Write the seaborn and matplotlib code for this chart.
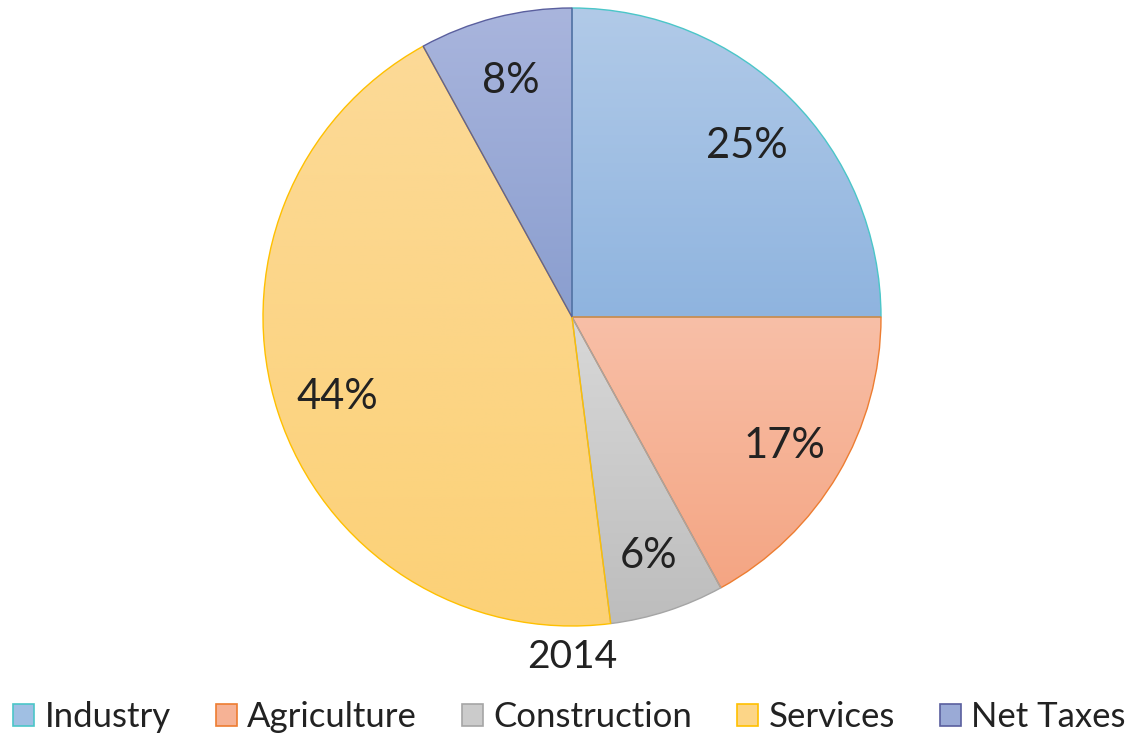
import numpy as np
import matplotlib
matplotlib.use("Agg")
import matplotlib.pyplot as plt
import seaborn as sns
from matplotlib.patches import Patch
from matplotlib.colors import LinearSegmentedColormap

categories = ["Industry", "Agriculture", "Construction", "Services", "Net Taxes"]
shares = [25, 17, 6, 44, 8]
year_label = "2014"

top_colors = ["#b1cae8", "#f8bfa7", "#d8d8d8", "#fcda97", "#a9b5dd"]
bottom_colors = ["#8fb4df", "#f4a583", "#bdbdbd", "#fcd177", "#8a9ecf"]
edge_colors = ["#4bc6c8", "#ed7d31", "#a5a5a5", "#ffc000", "#5a5f9e"]

sns.set_theme(style="white")
plt.rcParams["font.family"] = ["Lato", "DejaVu Sans"]

W, H = 1139, 736
fig = plt.figure(figsize=(W / 100, H / 100), dpi=100)
cx, cy, R = 572, 317, 309
ax = fig.add_axes([(cx - R) / W, (H - cy - R) / H, 2 * R / W, 2 * R / H])

wedges, texts, autotexts = ax.pie(
    shares, startangle=90, counterclock=False, radius=1,
    colors=top_colors, autopct="%1.0f%%", pctdistance=0.80,
    wedgeprops=dict(linewidth=1.0),
    textprops=dict(fontsize=30, color="#222222"),
)
ax.set_xlim(-1, 1)
ax.set_ylim(-1, 1)
ax.set_aspect("equal")
ax.axis("off")

for w, tc, bc, ec in zip(wedges, top_colors, bottom_colors, edge_colors):
    w.set_edgecolor(ec)
    ext = w.get_path().get_extents()
    cmap = LinearSegmentedColormap.from_list("g", [bc, tc])
    grad = np.linspace(0, 1, 256).reshape(-1, 1)
    im = ax.imshow(grad, cmap=cmap, origin="lower", aspect="auto",
                   extent=[ext.x0, ext.x1, ext.y0, ext.y1], zorder=w.get_zorder() - 0.1)
    im.set_clip_path(w)
    w.set_facecolor("none")
    w.set_zorder(w.get_zorder() + 0.2)

for t in autotexts:
    t.set_zorder(10)
    t.set_va("center_baseline")

ax.set_xlim(-1, 1)
ax.set_ylim(-1, 1)

fig.text(cx / W, 1 - 657 / H, year_label, ha="center", va="center", fontsize=28, color="#222222")

handles = [Patch(facecolor=(np.array(matplotlib.colors.to_rgb(t)) + np.array(matplotlib.colors.to_rgb(b))) / 2,
                 edgecolor=e, linewidth=1.2) for t, b, e in zip(top_colors, bottom_colors, edge_colors)]
fig.legend(handles, categories, loc="center", bbox_to_anchor=(0.5, 1 - 717 / H), ncol=5,
           frameon=False, fontsize=25, handlelength=0.6, handleheight=0.6,
           handletextpad=0.3, columnspacing=1.3, labelcolor="#222222", borderpad=0.1)

fig.savefig("out.png", dpi=100)
